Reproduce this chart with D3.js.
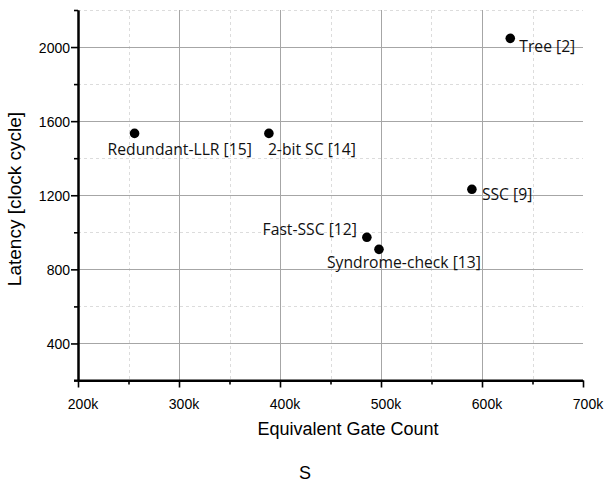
<!DOCTYPE html>
<html>
<head>
<meta charset="utf-8">
<script src="https://cdn.jsdelivr.net/npm/d3@7"></script>
<style>
  html, body { margin: 0; padding: 0; background: #fff; }
  svg { display: block; }
</style>
</head>
<body>
<svg id="chart" width="606" height="482"></svg>
<script>
// ---- data ----
const designs = ["Redundant-LLR [15]", "2-bit SC [14]", "Tree [2]", "SSC [9]", "Fast-SSC [12]", "Syndrome-check [13]"];
const gateCount = [256000, 389000, 628000, 590000, 486000, 498000];
const latency = [1534, 1534, 2047, 1232, 973, 908];
const xMajorTicks = [200000, 300000, 400000, 500000, 600000, 700000];
const xMinorTicks = [250000, 350000, 450000, 550000, 650000];
const yMajorTicks = [400, 800, 1200, 1600, 2000];
const yMinorTicks = [200, 600, 1000, 1400, 1800, 2200];
const xTitle = "Equivalent Gate Count";
const yTitle = "Latency [clock cycle]";
const caption = "S";

// ---- layout ----
const L = 78, R = 583, T = 10, B = 380.5;
const svg = d3.select("#chart");
const x = d3.scaleLinear().domain([200000, 700000]).range([L, R]);
const y = d3.scaleLinear().domain([200, 2200]).range([B, T]);
const fmtK = d => (d / 1000) + "k";
const fmtY = d3.format("d");

// minor grid
const g = svg.append("g");
g.selectAll(".vminor").data(xMinorTicks).join("line")
  .attr("x1", d => Math.round(x(d)) + 0.5).attr("x2", d => Math.round(x(d)) + 0.5)
  .attr("y1", T).attr("y2", B)
  .attr("stroke", "#dcdcdc").attr("stroke-dasharray", "3,3").attr("stroke-width", 1);
g.selectAll(".hminor").data(yMinorTicks.filter(d => d > 200)).join("line")
  .attr("y1", d => Math.round(y(d)) + 0.5).attr("y2", d => Math.round(y(d)) + 0.5)
  .attr("x1", L).attr("x2", R)
  .attr("stroke", "#dcdcdc").attr("stroke-dasharray", "3,3").attr("stroke-width", 1);
// major grid
g.selectAll(".vmajor").data(xMajorTicks.filter(d => d > 200000 && d < 700000)).join("line")
  .attr("x1", d => Math.round(x(d)) + 0.5).attr("x2", d => Math.round(x(d)) + 0.5)
  .attr("y1", T).attr("y2", B)
  .attr("stroke", "#a6a6a6").attr("stroke-width", 1);
g.selectAll(".hmajor").data(yMajorTicks).join("line")
  .attr("y1", d => Math.round(y(d)) + 0.5).attr("y2", d => Math.round(y(d)) + 0.5)
  .attr("x1", L).attr("x2", R)
  .attr("stroke", "#a6a6a6").attr("stroke-width", 1);

// axes
const xAxis = svg.append("g").attr("transform", `translate(0,${B})`)
  .call(d3.axisBottom(x).tickValues(xMajorTicks).tickFormat(fmtK).tickSize(7).tickSizeOuter(0));
const xAxisMinor = svg.append("g").attr("transform", `translate(0,${B})`)
  .call(d3.axisBottom(x).tickValues(xMinorTicks).tickFormat("").tickSize(4).tickSizeOuter(0));
const yAxis = svg.append("g").attr("transform", `translate(${L},0)`)
  .call(d3.axisLeft(y).tickValues(yMajorTicks).tickFormat(fmtY).tickSize(7).tickSizeOuter(0));
const yAxisMinor = svg.append("g").attr("transform", `translate(${L},0)`)
  .call(d3.axisLeft(y).tickValues(yMinorTicks).tickFormat("").tickSize(4).tickSizeOuter(0));

[xAxis, xAxisMinor, yAxis, yAxisMinor].forEach(a => {
  a.select(".domain").attr("stroke", "#000").attr("stroke-width", 2);
  a.selectAll(".tick line").attr("stroke", "#000").attr("stroke-width", 1.6);
  a.selectAll(".tick text").attr("font-family", "Liberation Sans, Arial, sans-serif")
    .attr("font-size", 14).attr("fill", "#000");
});
xAxis.selectAll(".tick text").attr("dy", "1.35em").attr("dx", 4.5);
yAxis.selectAll(".tick text").attr("dy", "0.36em").attr("x", -8);
// extend x-axis domain to left tick
xAxis.select(".domain").attr("d", `M${L - 4},0H${R}`);

// titles
svg.append("text").attr("x", 348).attr("y", 435)
  .attr("text-anchor", "middle").attr("font-family", "Liberation Sans, Arial, sans-serif")
  .attr("font-size", 18).text(xTitle);
svg.append("text").attr("transform", `translate(21,199) rotate(-90)`)
  .attr("text-anchor", "middle").attr("font-family", "Liberation Sans, Arial, sans-serif")
  .attr("font-size", 19).text(yTitle);
svg.append("text").attr("x", 305).attr("y", 479)
  .attr("text-anchor", "middle").attr("font-family", "Liberation Sans, Arial, sans-serif")
  .attr("font-size", 18).text(caption);

// points
const pts = designs.map((name, i) => ({ name, gx: gateCount[i], ly: latency[i] }));
svg.append("g").selectAll("circle").data(pts).join("circle")
  .attr("cx", d => x(d.gx)).attr("cy", d => y(d.ly)).attr("r", 4.8).attr("fill", "#000");

// label placement (offset from point, anchor)
const placement = {
  "Redundant-LLR [15]": { dx: -27, dy: 22, anchor: "start" },
  "2-bit SC [14]": { dx: -1, dy: 22, anchor: "start" },
  "Tree [2]": { dx: 9, dy: 13.5, anchor: "start" },
  "SSC [9]": { dx: 10, dy: 11, anchor: "start" },
  "Fast-SSC [12]": { dx: -10, dy: -2, anchor: "end" },
  "Syndrome-check [13]": { dx: -52, dy: 19, anchor: "start" }
};
svg.append("g").selectAll("text").data(pts).join("text")
  .attr("x", d => x(d.gx) + placement[d.name].dx)
  .attr("y", d => y(d.ly) + placement[d.name].dy)
  .attr("text-anchor", d => placement[d.name].anchor)
  .attr("font-family", "Open Sans, sans-serif").attr("font-size", 15.7)
  .attr("fill", "#111").text(d => d.name);
</script>
</body>
</html>
